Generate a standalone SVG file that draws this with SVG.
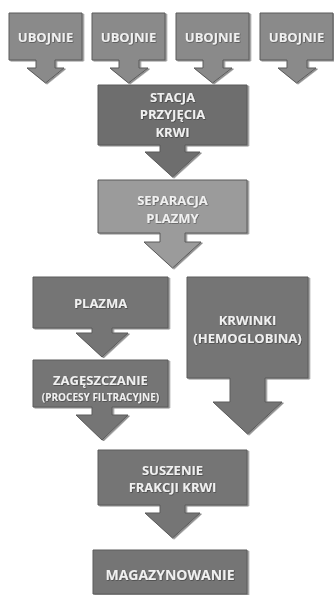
<svg xmlns="http://www.w3.org/2000/svg" width="334" height="595" viewBox="0 0 334 595">
<defs>
<filter id="sh" x="-10%" y="-10%" width="130%" height="130%">
<feDropShadow dx="1.5" dy="1" stdDeviation="0.7" flood-color="#000" flood-opacity="0.45"/>
</filter>
<filter id="ts" x="-10%" y="-30%" width="120%" height="160%">
<feDropShadow dx="0.6" dy="0.6" stdDeviation="0.4" flood-color="#000" flood-opacity="0.5"/>
</filter>
<style>
.s{stroke:#5a5a5a;stroke-width:1;stroke-linejoin:miter;filter:url(#sh)}
.a{fill:#8a8a8a}
.b{fill:#6e6e6e}
.c{fill:#9b9b9b}
.d{fill:#747474}
text{font-family:"Open Sans","DejaVu Sans",sans-serif;font-weight:bold;fill:#f0f0f0;text-anchor:middle;font-size:13px;filter:url(#ts)}
</style>
</defs>
<rect width="334" height="595" fill="#ffffff"/>
<g id="ubojnie1">
<path class="a s" d="M9,13H82V60H55V68H64L45.5,83L27,68H36V60H9Z"/>
<text x="45.5" y="42">UBOJNIE</text>
</g>
<g id="ubojnie2">
<path class="a s" d="M92,13H165V60H139V68H148L128.5,83L110,68H119V60H92Z"/>
<text x="128.5" y="42">UBOJNIE</text>
</g>
<g id="ubojnie3">
<path class="a s" d="M176,13H249V60H223V68H232L212.5,83L194,68H203V60H176Z"/>
<text x="212.5" y="42">UBOJNIE</text>
</g>
<g id="ubojnie4">
<path class="a s" d="M260,13H333V60H307V68H316L296.5,83L278,68H287V60H260Z"/>
<text x="296.5" y="42">UBOJNIE</text>
</g>
<g id="stacja">
<path class="b s" d="M98,85H247V145H185V152H200L172.5,177L145,152H160V145H98Z"/>
<text x="172.5" y="102">STACJA</text>
<text x="172.5" y="119">PRZYJĘCIA</text>
<text x="172.5" y="137">KRWI</text>
</g>
<g id="separacja">
<path class="c s" d="M98,180H247V233H185V242H201L172.5,268L144,242H160V233H98Z"/>
<text x="172.5" y="205">SEPARACJA</text>
<text x="172.5" y="223">PLAZMY</text>
</g>
<g id="plazma">
<path class="d s" d="M33,277H168V328H112V333H128L102,357L76,333H92V328H33Z"/>
<text x="100.5" y="308">PLAZMA</text>
</g>
<g id="zageszczanie">
<path class="d s" d="M33,360H168V407H112V415H128L102,440L76,415H92V407H33Z"/>
<text x="100.5" y="385" style="font-size:13px">ZAGĘSZCZANIE</text>
<text x="100.5" y="401" style="font-size:10px">(PROCESY FILTRACYJNE)</text>
</g>
<g id="krwinki">
<path class="d s" d="M187,277H308V378H265V402H282L247.5,434L213,402H230V378H187Z"/>
<text x="247.5" y="325">KRWINKI</text>
<text x="247.5" y="343">(HEMOGLOBINA)</text>
</g>
<g id="suszenie">
<path class="d s" d="M98,450H247V505H185V513H200L172.5,538L145,513H160V505H98Z"/>
<text x="172.5" y="475">SUSZENIE</text>
<text x="172.5" y="492">FRAKCJI KRWI</text>
</g>
<g id="magazynowanie">
<path class="d s" d="M93,550H247V594H93Z"/>
<text x="170" y="580" style="font-size:14px">MAGAZYNOWANIE</text>
</g>
<g id="connectors"></g>
</svg>
